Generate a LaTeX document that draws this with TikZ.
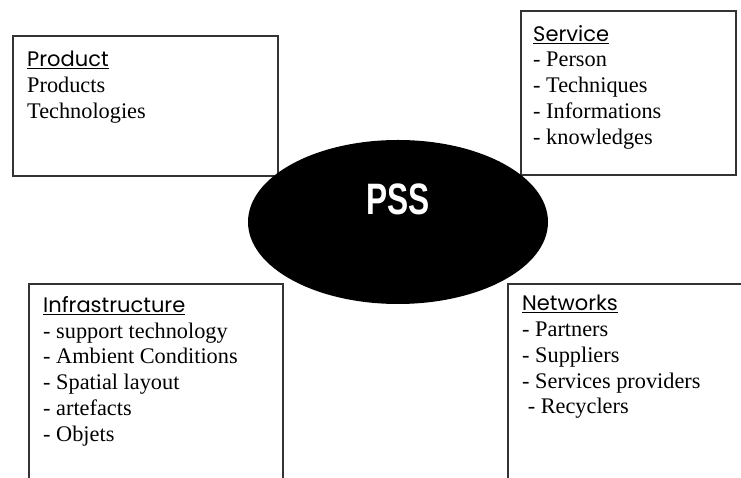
\documentclass[tikz,border=0pt]{standalone}
\usepackage{fontspec}
\setmainfont{Liberation Serif}
\newfontfamily\titlefont{Poppins}
\newfontfamily\hubfont{Liberation Sans}
\usetikzlibrary{positioning,shapes.geometric}

\newcommand{\boxtitle}[1]{{\titlefont\fontsize{21}{26}\selectfont\underline{#1}}}

\begin{document}
\begin{tikzpicture}[
        x=1pt, y=1pt,
        box/.style={
            draw=black!80,
            line width=2.2pt,
            anchor=north west,
            inner sep=0pt
        },
        entries/.style={
            anchor=north west,
            align=left,
            inner sep=0pt,
            font=\fontsize{22.3}{25.8}\selectfont
        },
        hub/.style={
            ellipse,
            fill=black,
            inner sep=0pt,
            minimum width=300pt,
            minimum height=164pt
        },
        hubtext/.style={
            text=white,
            font=\hubfont\bfseries\fontsize{44}{44}\selectfont
        }
    ]
        \useasboundingbox (0,0) rectangle (741,478);
        \clip (0,0) rectangle (741,478);

        % the four corner boxes
        \node[box, minimum width=265pt, minimum height=140pt] (product) at (12,443) {};
        \node[box, minimum width=215pt, minimum height=164pt] (service) at (520,468) {};
        \node[box, minimum width=254pt, minimum height=230pt] (infra) at (28,195) {};
        \node[box, minimum width=260pt, minimum height=230pt] (networks) at (507,195) {};

        \node[entries, below right=16pt and 15pt of product.north west] (product list)
            {\boxtitle{Product}\\Products\\Technologies};
        \node[entries, below right=15pt and 13pt of service.north west] (service list)
            {\boxtitle{Service}\\- Person\\- Techniques\\- Informations\\- knowledges};
        \node[entries, below right=13pt and 15pt of infra.north west] (infra list)
            {\boxtitle{Infrastructure}\\- support technology\\- Ambient Conditions\\- Spatial layout\\- artefacts\\- Objets};
        \node[entries, below right=12pt and 15pt of networks.north west] (networks list)
            {\boxtitle{Networks}\\- Partners\\- Suppliers\\- Services providers\\\ - Recyclers};

        % the centre
        \node[hub] (pss) at (398,256) {};
        \node[hubtext] (pss label) at ([yshift=23pt]pss.center) {\scalebox{0.72}[1]{PSS}};
    \end{tikzpicture}
\end{document}
